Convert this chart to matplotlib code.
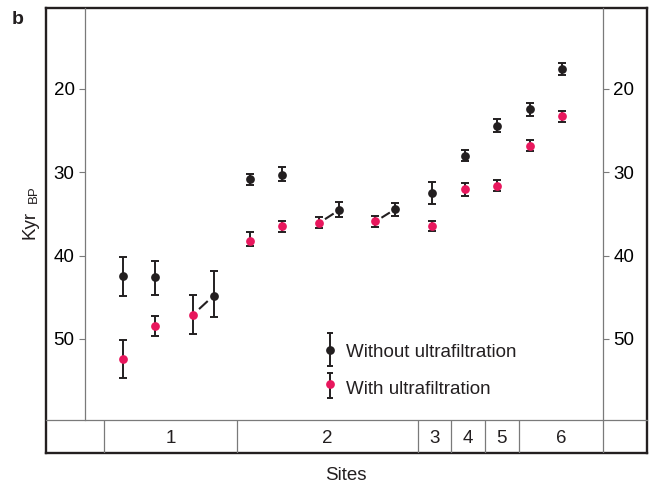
import matplotlib
matplotlib.use("Agg")
import matplotlib.pyplot as plt
import numpy as np

plt.rcParams["font.family"] = ["Liberation Sans", "DejaVu Sans"]

# --- Données (Kyr BP) ---
# position des échantillons le long de l'axe (unités arbitraires, 0..16)
x_pos = [1.17, 2.16, 3.33, 3.97, 5.09, 6.08, 7.22, 7.86, 8.97, 9.59,
         10.72, 11.74, 12.74, 13.73, 14.73]
# sans ultrafiltration (noir)
no_uf = [42.4, 42.6, np.nan, 44.8, 30.8, 30.3, np.nan, 34.5, np.nan, 34.4,
         32.5, 28.0, 24.4, 22.4, 17.6]
no_uf_lo = [40.2, 40.6, np.nan, 41.9, 30.2, 29.4, np.nan, 33.6, np.nan, 33.7,
            31.2, 27.3, 23.6, 21.7, 16.9]
no_uf_hi = [44.9, 44.7, np.nan, 47.4, 31.5, 31.0, np.nan, 35.4, np.nan, 35.2,
            33.8, 28.6, 25.2, 23.2, 18.3]
# avec ultrafiltration (rouge)
uf = [52.4, 48.4, 47.1, np.nan, 38.2, 36.5, 36.1, np.nan, 35.9, np.nan,
      36.4, 32.0, 31.6, 26.8, 23.3]
uf_lo = [50.1, 47.2, 44.7, np.nan, 37.2, 35.8, 35.4, np.nan, 35.2, np.nan,
         35.8, 31.3, 30.9, 26.1, 22.6]
uf_hi = [54.7, 49.6, 49.4, np.nan, 38.8, 37.2, 36.7, np.nan, 36.6, np.nan,
         37.1, 32.8, 32.3, 27.4, 24.0]
# paires reliées (indice rouge, indice noir)
pairs = [(2, 3), (6, 7), (8, 9)]

site_labels = ["1", "2", "3", "4", "5", "6"]
site_edges = [0.586, 4.69, 10.28, 11.30, 12.35, 13.40, 15.99]
y_ticks = [20, 30, 40, 50]

BLACK = "#231f20"
RED = "#e8175d"
GREY = "#7a7a7a"
FS = 13.5

# --- Mise en page (pixels) ---
W, H = 649, 487


def rect(x0, y0, x1, y1):
    return [x0 / W, 1 - y1 / H, (x1 - x0) / W, (y1 - y0) / H]


fig = plt.figure(figsize=(W / 100, H / 100), dpi=100)

frame = fig.add_axes(rect(46, 8, 647, 453), zorder=0)
frame.set_facecolor("none")
frame.set_xticks([])
frame.set_yticks([])
for s in frame.spines.values():
    s.set_color(BLACK)
    s.set_linewidth(1.7)

ax = fig.add_axes(rect(85, 8, 603, 420), zorder=1)
ax.set_facecolor("none")
ax.set_xlim(0, 16)
ax.set_ylim(59.72, 10.28)
ax.set_xticks([])
ax.set_yticks(y_ticks)
ax.tick_params(axis="y", which="both", direction="out", length=4, width=0.8,
               color=GREY, labelsize=FS, left=True, right=True,
               labelleft=True, labelright=True, pad=3.5)
for side in ["top", "bottom"]:
    ax.spines[side].set_visible(False)
for side in ["left", "right"]:
    ax.spines[side].set_color(GREY)
    ax.spines[side].set_linewidth(0.9)

# barres d'erreur
x = np.array(x_pos)
for vals, lo, hi, col in [(no_uf, no_uf_lo, no_uf_hi, BLACK),
                          (uf, uf_lo, uf_hi, RED)]:
    v = np.array(vals)
    err = np.vstack([v - np.array(lo), np.array(hi) - v])
    m = ~np.isnan(v)
    ax.errorbar(x[m], v[m], yerr=err[:, m], fmt="none", ecolor=BLACK,
                elinewidth=1.4, capsize=2.8, capthick=1.4, zorder=2)
    ax.plot(x[m], v[m], "o", color=col, markersize=6.3, markeredgewidth=0,
            zorder=3)

# traits entre paires
for r, b in pairs:
    x0, y0 = x_pos[r], uf[r]
    x1, y1 = x_pos[b], no_uf[b]
    t0, t1 = 0.3, 0.72
    ax.plot([x0 + t0 * (x1 - x0), x0 + t1 * (x1 - x0)],
            [y0 + t0 * (y1 - y0), y0 + t1 * (y1 - y0)],
            color=BLACK, lw=1.5, solid_capstyle="butt", zorder=2)

# légende manuelle
for (xl, yd, yb0, yb1, col, txt, yt) in [
        (0.473, 0.170, 0.212, 0.132, BLACK, "Without ultrafiltration", 0.163),
        (0.473, 0.087, 0.114, 0.053, RED, "With ultrafiltration", 0.075)]:
    ax.plot([xl, xl], [yb0, yb1], color=BLACK, lw=1.4, transform=ax.transAxes)
    ax.plot([xl, xl], [yb0, yb1], "_", color=BLACK, markersize=4.2, mew=1.4,
            transform=ax.transAxes)
    ax.plot([xl], [yd], "o", color=col, markersize=6.3, mew=0,
            transform=ax.transAxes)
    ax.text(0.504, yt, txt, transform=ax.transAxes, fontsize=FS,
            va="center", ha="left", color=BLACK)

# rangée des sites
row = fig.add_axes(rect(46, 420, 647, 453), zorder=1)
u = 16 / (603 - 85)
row.set_xlim(-(85 - 46) * u, 16 + (647 - 603) * u)
row.set_ylim(0, 1)
row.set_facecolor("none")
row.set_xticks([])
row.set_yticks([])
for side in ["left", "right", "bottom"]:
    row.spines[side].set_visible(False)
row.spines["top"].set_color(GREY)
row.spines["top"].set_linewidth(0.9)
for e in site_edges:
    row.axvline(e, color=GREY, lw=0.9)
for i, lab in enumerate(site_labels):
    row.text((site_edges[i] + site_edges[i + 1]) / 2, 0.45, lab,
             ha="center", va="center", fontsize=FS, color=BLACK)

fig.text(346 / W, 1 - 475 / H, "Sites", ha="center", va="center",
         fontsize=FS, color=BLACK)
fig.text(30 / W, 1 - 225 / H, "Kyr", rotation=90, ha="center", va="center",
         fontsize=FS, color=BLACK)
fig.text(33.5 / W, 1 - 194 / H, "BP", rotation=90, ha="center", va="center",
         fontsize=9.5, color=BLACK)
fig.text(18 / W, 1 - 20 / H, "b", ha="center", va="center", fontsize=14,
         fontweight="bold", color=BLACK)

fig.savefig("out.png", dpi=100)
